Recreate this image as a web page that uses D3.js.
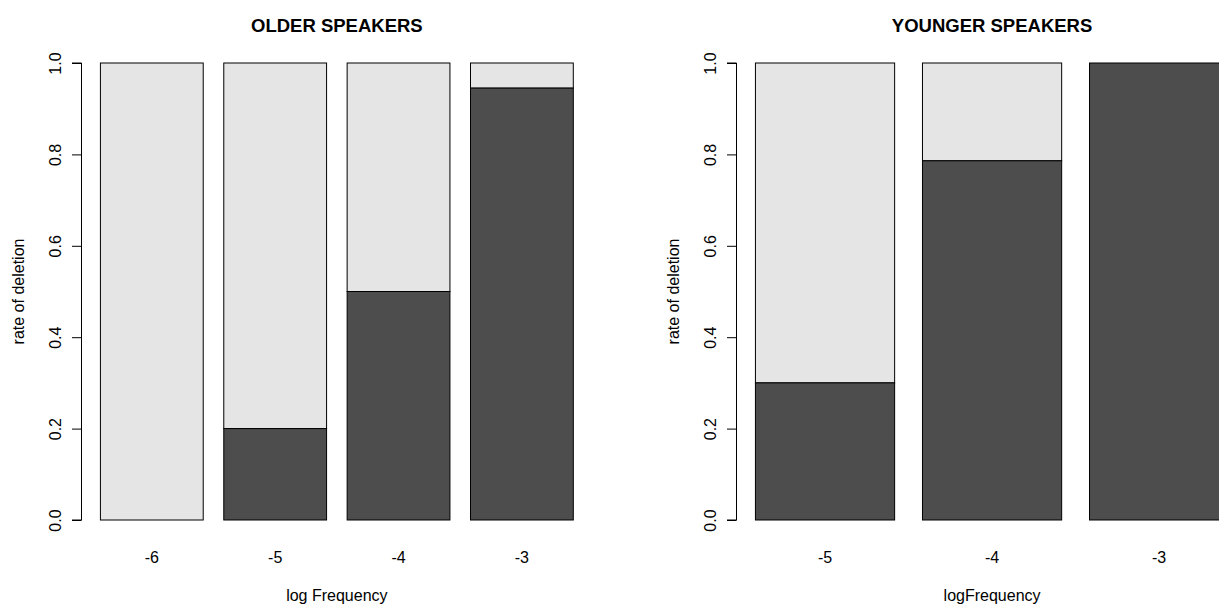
<!DOCTYPE html>
<html>
<head>
<meta charset="utf-8">
<script src="https://cdn.jsdelivr.net/npm/d3@7"></script>
<style>
  html, body { margin: 0; padding: 0; background: #fff; }
  svg { display: block; font-family: "Liberation Sans", Arial, Helvetica, sans-serif; }
</style>
</head>
<body>
<svg id="chart" width="1219" height="606"></svg>
<script>
// Rate of deletion by log frequency, two speaker groups
const olderFreq = ["-6", "-5", "-4", "-3"];
const olderRate = [0, 0.2, 0.5, 0.945];
const youngerFreq = ["-5", "-4", "-3"];
const youngerRate = [0.3, 0.786, 1.0];
const yTicks = [0, 0.2, 0.4, 0.6, 0.8, 1.0];

const DARK = "#4d4d4d";
const LIGHT = "#e5e5e5";

const svg = d3.select("#chart");

// shared vertical scale for both panels
const y = d3.scaleLinear().domain([0, 1]).range([520, 63]);

function panel(opts) {
  const { title, xlab, cats, rates, unitDomain, axisX, unitPx } = opts;
  // bar-unit coordinate -> pixels (bars 1 unit wide, 0.2 spacing)
  const u = d3.scaleLinear()
    .domain(unitDomain)
    .range([axisX, axisX + (unitDomain[1] - unitDomain[0]) * unitPx]);
  const n = cats.length;
  const band = d3.scaleBand()
    .domain(cats)
    .range([u(0.1), u(0.1 + 1.2 * n)])
    .paddingInner(0.2 / 1.2)
    .paddingOuter(0.1 / 1.2);

  const g = svg.append("g");

  const rows = cats.map((c, i) => ({ cat: c, rate: rates[i] }));

  // light upper part (not deleted)
  g.selectAll("rect.top").data(rows).join("rect")
    .attr("class", "top")
    .attr("x", d => band(d.cat))
    .attr("y", y(1))
    .attr("width", band.bandwidth())
    .attr("height", d => y(d.rate) - y(1))
    .attr("fill", LIGHT)
    .attr("stroke", "#000")
    .attr("stroke-width", 1);

  // dark lower part (deleted)
  g.selectAll("rect.bottom").data(rows).join("rect")
    .attr("class", "bottom")
    .attr("x", d => band(d.cat))
    .attr("y", d => y(d.rate))
    .attr("width", band.bandwidth())
    .attr("height", d => y(0) - y(d.rate))
    .attr("fill", DARK)
    .attr("stroke", "#000")
    .attr("stroke-width", 1);

  // left axis
  const ax = g.append("g")
    .attr("transform", `translate(${axisX},0)`)
    .call(d3.axisLeft(y).tickValues(yTicks).tickSize(9.5).tickFormat(d3.format(".1f")));
  ax.select(".domain").attr("stroke", "#000").attr("d", `M-9.5,${y(0)}H0V${y(1)}H-9.5`);
  ax.selectAll(".tick line").attr("stroke", "#000");
  ax.selectAll(".tick text")
    .attr("fill", "#000")
    .attr("font-size", 16)
    .attr("text-anchor", "middle")
    .attr("dy", null)
    .attr("x", null)
    .attr("transform", "translate(-20.5,0) rotate(-90)");

  // category labels under bars
  g.selectAll("text.cat").data(rows).join("text")
    .attr("class", "cat")
    .attr("x", d => band(d.cat) + band.bandwidth() / 2)
    .attr("y", 563)
    .attr("text-anchor", "middle")
    .attr("font-size", 16)
    .text(d => d.cat);

  const cx = (u.range()[0] + u.range()[1]) / 2;

  g.append("text")
    .attr("x", cx).attr("y", 32)
    .attr("text-anchor", "middle")
    .attr("font-size", 18.5)
    .attr("font-weight", "bold")
    .text(title);

  g.append("text")
    .attr("x", cx).attr("y", 601)
    .attr("text-anchor", "middle")
    .attr("font-size", 16)
    .text(xlab);

  g.append("text")
    .attr("transform", `translate(${axisX - 57.5},${(y(0) + y(1)) / 2}) rotate(-90)`)
    .attr("text-anchor", "middle")
    .attr("font-size", 16)
    .text("rate of deletion");
}

panel({
  title: "OLDER SPEAKERS",
  xlab: "log Frequency",
  cats: olderFreq,
  rates: olderRate,
  unitDomain: [0.016, 4.984],
  axisX: 81.5,
  unitPx: 102.8
});

panel({
  title: "YOUNGER SPEAKERS",
  xlab: "logFrequency",
  cats: youngerFreq,
  rates: youngerRate,
  unitDomain: [0.064, 3.736],
  axisX: 736.5,
  unitPx: 139.2
});
</script>
</body>
</html>
